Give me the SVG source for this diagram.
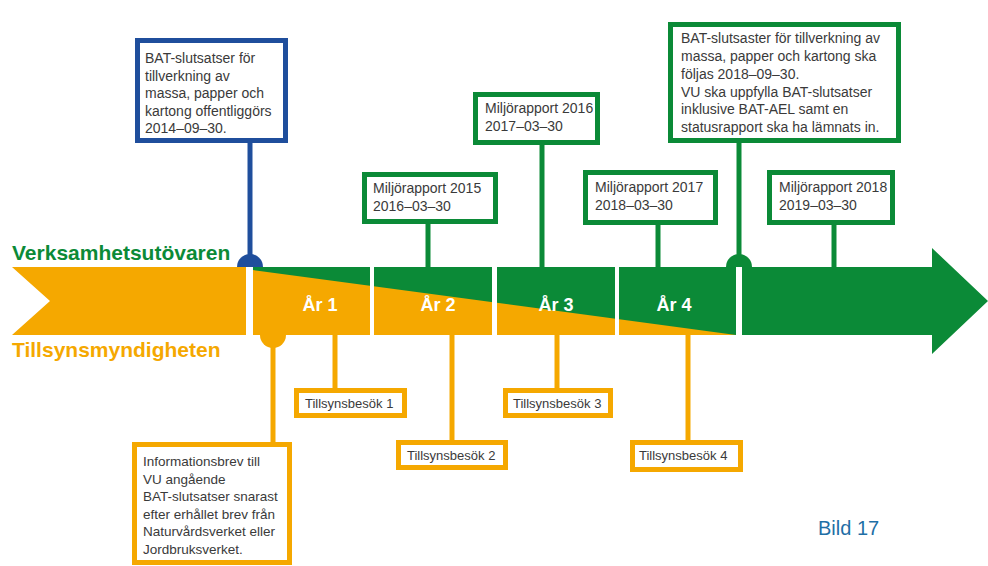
<svg xmlns="http://www.w3.org/2000/svg" width="988" height="566" viewBox="0 0 988 566">
<style>
.bx{fill:#fff;stroke-width:5}
.g{stroke:#0b8a37}
.o{stroke:#f5a800}
.b{stroke:#1f4e9c}
.t{font-family:"Liberation Sans",Arial,sans-serif;font-size:14px;fill:#3a3a3a}
.ts{font-family:"Liberation Sans",Arial,sans-serif;font-size:13px;fill:#3a3a3a}
.yr{font-family:"Liberation Sans",Arial,sans-serif;font-size:18px;font-weight:bold;fill:#fff;text-anchor:middle}
.lab{font-family:"Liberation Sans",Arial,sans-serif;font-size:21px;font-weight:bold}
.cn{stroke-width:5;fill:none}
</style>
<rect width="988" height="566" fill="#fff"/>
<g id="timeline">
<polygon points="12,267 246,267 246,335 12,335 50,301" fill="#f5a800"/>
<polygon points="253,267 932,267 932,248 988,301 932,354 932,335 253,335" fill="#0b8a37"/>
<polygon points="253,270 736,335 253,335" fill="#f5a800"/>
<rect x="370" y="267" width="4" height="68" fill="#fff"/>
<rect x="492" y="267" width="5" height="68" fill="#fff"/>
<rect x="615" y="267" width="4" height="68" fill="#fff"/>
<rect x="736" y="267" width="6" height="68" fill="#fff"/>
<path d="M237,267 A13,13 0 0 1 263,267 Z" fill="#1f4e9c"/>
<path d="M726,267 A13,13 0 0 1 752,267 Z" fill="#0b8a37"/>
<path d="M260,335 A13,13 0 0 0 286,335 Z" fill="#f5a800"/>
<text class="yr" x="320" y="311">År 1</text>
<text class="yr" x="438" y="311">År 2</text>
<text class="yr" x="556" y="311">År 3</text>
<text class="yr" x="674" y="311">År 4</text>
</g>
<g id="labels">
<text class="lab" x="12" y="260" fill="#0b8a37">Verksamhetsutövaren</text>
<text class="lab" x="12" y="357" fill="#f5a800">Tillsynsmyndigheten</text>
</g>
<g id="connectors">
<line class="cn b" x1="250" y1="142" x2="250" y2="262"/>
<line class="cn g" x1="428" y1="222" x2="428" y2="267"/>
<line class="cn g" x1="542" y1="144" x2="542" y2="267"/>
<line class="cn g" x1="658" y1="224" x2="658" y2="267"/>
<line class="cn g" x1="739" y1="142" x2="739" y2="262"/>
<line class="cn g" x1="834" y1="224" x2="834" y2="267"/>
<line class="cn o" x1="273" y1="345" x2="273" y2="443"/>
<line class="cn o" x1="335" y1="335" x2="335" y2="389"/>
<line class="cn o" x1="452" y1="335" x2="452" y2="441"/>
<line class="cn o" x1="557" y1="335" x2="557" y2="389"/>
<line class="cn o" x1="688" y1="335" x2="688" y2="441"/>
</g>
<g id="bat-publicering">
<rect class="bx b" x="137.5" y="40.5" width="148" height="100"/>
<text class="t" x="145" y="63">BAT-slutsatser för</text>
<text class="t" x="145" y="80.5">tillverkning av</text>
<text class="t" x="145" y="98">massa, papper och</text>
<text class="t" x="145" y="115.5">kartong offentliggörs</text>
<text class="t" x="145" y="133">2014–09–30.</text>
</g>
<g id="bat-folja">
<rect class="bx g" x="670.5" y="24.5" width="228" height="116"/>
<text class="t" x="681" y="43">BAT-slutsaster för tillverkning av</text>
<text class="t" x="681" y="61">massa, papper och kartong ska</text>
<text class="t" x="681" y="79">följas 2018–09–30.</text>
<text class="t" x="681" y="96.5">VU ska uppfylla BAT-slutsatser</text>
<text class="t" x="681" y="114">inklusive BAT-AEL samt en</text>
<text class="t" x="681" y="132">statusrapport ska ha lämnats in.</text>
</g>
<g id="miljorapport-2015">
<rect class="bx g" x="364.5" y="174.5" width="131" height="47"/>
<text class="t" x="373" y="193">Miljörapport 2015</text>
<text class="t" x="373" y="211">2016–03–30</text>
</g>
<g id="miljorapport-2016">
<rect class="bx g" x="475.5" y="94.5" width="122" height="48"/>
<text class="t" x="485" y="113">Miljörapport 2016</text>
<text class="t" x="485" y="131">2017–03–30</text>
</g>
<g id="miljorapport-2017">
<rect class="bx g" x="585.5" y="172.5" width="130" height="50"/>
<text class="t" x="595" y="192">Miljörapport 2017</text>
<text class="t" x="595" y="210">2018–03–30</text>
</g>
<g id="miljorapport-2018">
<rect class="bx g" x="769.5" y="172.5" width="123" height="50"/>
<text class="t" x="779" y="192">Miljörapport 2018</text>
<text class="t" x="779" y="210">2019–03–30</text>
</g>
<g id="informationsbrev">
<rect class="bx o" x="134.5" y="444.5" width="155" height="118"/>
<text class="t" x="143" y="466" style="font-size:13.5px">Informationsbrev till</text>
<text class="t" x="143" y="483.5" style="font-size:13.5px">VU angående</text>
<text class="t" x="143" y="501" style="font-size:13.5px">BAT-slutsatser snarast</text>
<text class="t" x="143" y="518.5" style="font-size:13.5px">efter erhållet brev från</text>
<text class="t" x="143" y="536" style="font-size:13.5px">Naturvårdsverket eller</text>
<text class="t" x="143" y="553.5" style="font-size:13.5px">Jordbruksverket.</text>
</g>
<g id="tillsynsbesok-1">
<rect class="bx o" x="296.5" y="390.5" width="108" height="25"/>
<text class="ts" x="305" y="408">Tillsynsbesök 1</text>
</g>
<g id="tillsynsbesok-2">
<rect class="bx o" x="398.5" y="442.5" width="107" height="25"/>
<text class="ts" x="407" y="460">Tillsynsbesök 2</text>
</g>
<g id="tillsynsbesok-3">
<rect class="bx o" x="505.5" y="390.5" width="105" height="25"/>
<text class="ts" x="513" y="408">Tillsynsbesök 3</text>
</g>
<g id="tillsynsbesok-4">
<rect class="bx o" x="632.5" y="442.5" width="108" height="27"/>
<text class="ts" x="639" y="460">Tillsynsbesök 4</text>
</g>
<text x="818" y="535" font-family="'Liberation Sans',Arial,sans-serif" font-size="20" fill="#1f6fa6">Bild 17</text>
</svg>
